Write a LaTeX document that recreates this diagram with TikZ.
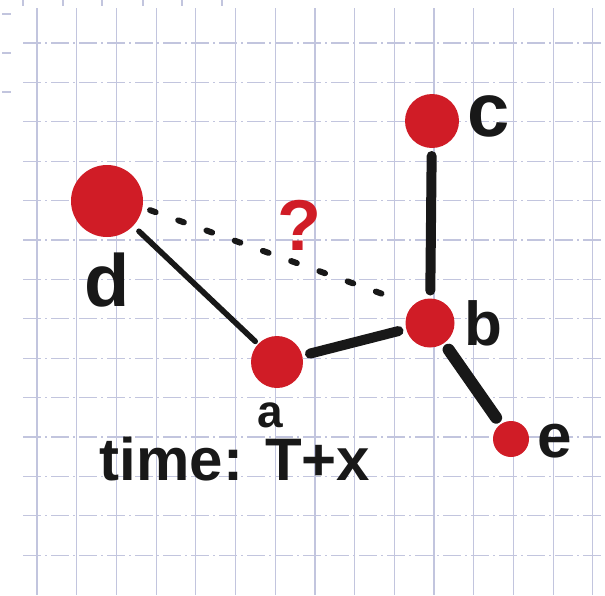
\documentclass[tikz,border=0pt]{standalone}
\usepackage{fontspec}
\setmainfont{Liberation Sans}
\usepackage{tikz}
\usetikzlibrary{positioning}
\definecolor{inkred}{RGB}{208, 28, 38}
\definecolor{inkblack}{RGB}{24, 24, 24}
\definecolor{gridblue}{RGB}{194, 197, 222}
\tikzset{
  vertex/.style={circle, fill=inkred, draw=none, inner sep=0pt, outer sep=4pt},
  vname/.style={inner sep=0pt, text=inkblack},
  link/.style={inkblack, line cap=round},
  maybelink/.style={inkblack, line width=3pt, line cap=round, dash pattern=on 3pt off 12pt},
  gridv/.style={gridblue, line width=0.6pt},
  gridh/.style={gridblue, line width=0.6pt, dash pattern=on 9pt off 2pt on 1pt off 2pt}
}

\begin{document}
\begin{tikzpicture}[x=0.5pt, y=-0.5pt]
    \fill[white] (0,0) rectangle (605,595);
    \useasboundingbox (0,0) rectangle (605,595);

    \foreach \i in {0,...,14}
        \draw[gridv] ({37+39.7*\i},8) -- ({37+39.7*\i},595);
    \foreach \j in {0,...,13}
        \draw[gridh] (23,{43+39.4*\j}) -- (605,{43+39.4*\j});
    \foreach \xx in {23,63,102,143,182,222}
        \draw[gridv] (\xx,0) -- (\xx,6);
    \foreach \yy in {14,53,92}
        \draw[gridv] (2,\yy) -- (11,\yy);

    \node (d) [vertex, minimum size=36pt] at (107,201) {};
    \node (c) [vertex, minimum size=27pt] at (432,121) {};
    \node (a) [vertex, minimum size=26pt] at (277,362) {};
    \node (b) [vertex, minimum size=24.5pt] at (430,323) {};
    \node (e) [vertex, minimum size=18pt] at (511,439) {};

    \node (dname) [vname, font=\fontsize{37}{40}\bfseries, below=3.5pt of d] {d};
    \node (cname) [vname, font=\fontsize{38}{42}\bfseries, right=0pt of c, yshift=2.5pt] {c};
    \node (aname) [vname, font=\fontsize{23}{26}\bfseries, below=3pt of a, xshift=-3.5pt] {a};
    \node (bname) [vname, font=\fontsize{31}{34}\bfseries, right=1pt of b] {b};
    \node (ename) [vname, font=\fontsize{31}{34}\bfseries, right=0pt of e, yshift=-1pt] {e};
    \node (time) [vname, font=\fontsize{30}{34}\bfseries, below=4.5pt of aname, xshift=-17.5pt] {time: T+x};
    \node (q) [inner sep=0pt, text=inkred, font=\fontsize{36}{39}\bfseries] at (299,225) {?};

    \draw[link, line width=5pt] (c) -- (b);
    \draw[link, line width=2.8pt, shorten >=-2pt] (d) -- (a);
    \draw[link, line width=5pt] (a) -- (b);
    \draw[link, line width=6pt] (b) -- (e);
    \draw[maybelink, shorten >=1pt] (d.-12) -- (b.140);
\end{tikzpicture}
\end{document}
